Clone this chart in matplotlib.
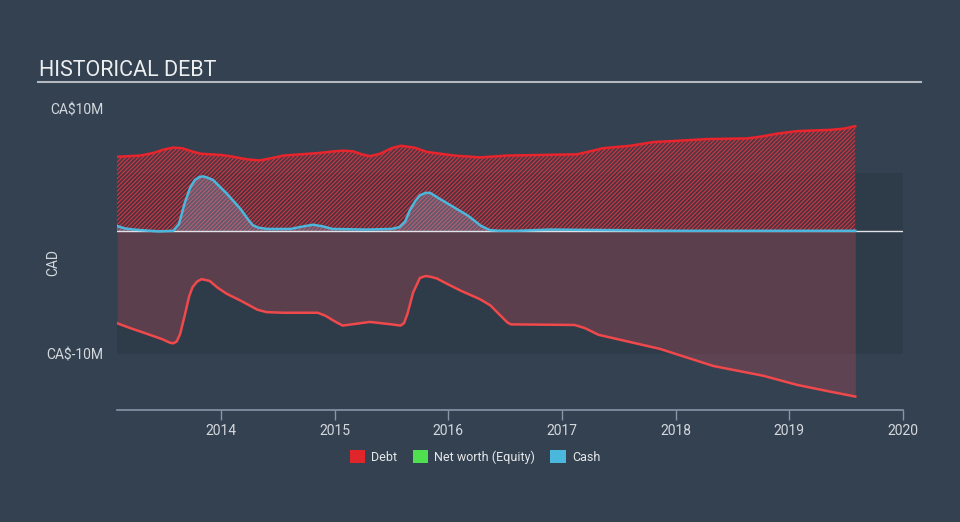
import matplotlib
matplotlib.use('Agg')
import matplotlib.pyplot as plt
from matplotlib.patches import Patch
from matplotlib.lines import Line2D

plt.rcParams['font.family'] = ['Roboto', 'DejaVu Sans']
plt.rcParams['hatch.linewidth'] = 0.8

# values in CA$ millions, dates as decimal years
debt_years = [2013.085, 2013.29, 2013.40, 2013.50, 2013.58, 2013.66, 2013.74, 2013.82, 2014.00,
              2014.11, 2014.22, 2014.34, 2014.45, 2014.55, 2014.85, 2015.00, 2015.07, 2015.16,
              2015.24, 2015.31, 2015.40, 2015.50, 2015.58, 2015.70, 2015.81, 2016.05, 2016.28,
              2016.52, 2017.13, 2017.25, 2017.36, 2017.60, 2017.80, 2018.00, 2018.28, 2018.63,
              2018.75, 2018.90, 2019.07, 2019.36, 2019.48, 2019.58]
debt = [6.1, 6.2, 6.4, 6.7, 6.85, 6.8, 6.55, 6.35, 6.25,
        6.1, 5.9, 5.8, 6.0, 6.2, 6.4, 6.55, 6.6, 6.55,
        6.3, 6.15, 6.35, 6.8, 7.0, 6.85, 6.5, 6.2, 6.05,
        6.2, 6.3, 6.55, 6.8, 7.0, 7.3, 7.4, 7.55, 7.6,
        7.75, 8.0, 8.2, 8.3, 8.4, 8.6]

cash_years = [2013.085, 2013.15, 2013.23, 2013.45, 2013.58, 2013.63, 2013.68, 2013.73, 2013.77,
              2013.81, 2013.84, 2013.88, 2013.93, 2014.05, 2014.17, 2014.24, 2014.28, 2014.33,
              2014.41, 2014.61, 2014.72, 2014.81, 2014.90, 2014.98, 2015.28, 2015.50, 2015.57,
              2015.62, 2015.66, 2015.71, 2015.75, 2015.80, 2015.84, 2015.90, 2015.99, 2016.17,
              2016.24, 2016.28, 2016.33, 2016.37, 2016.45, 2016.60, 2016.90, 2017.50, 2018.00,
              2019.58]
cash = [0.45, 0.25, 0.15, 0.0, 0.05, 0.6, 2.3, 3.6, 4.2,
        4.45, 4.5, 4.4, 4.2, 3.1, 1.85, 0.95, 0.5, 0.3,
        0.2, 0.2, 0.4, 0.55, 0.4, 0.2, 0.15, 0.2, 0.35,
        0.8, 1.7, 2.5, 2.95, 3.15, 3.15, 2.8, 2.3, 1.3,
        0.8, 0.5, 0.25, 0.1, 0.05, 0.05, 0.15, 0.1, 0.05,
        0.05]

equity_years = [2013.085, 2013.20, 2013.31, 2013.48, 2013.55, 2013.58, 2013.61, 2013.64, 2013.68,
                2013.72, 2013.75, 2013.79, 2013.83, 2013.90, 2013.97, 2014.05, 2014.17, 2014.26,
                2014.32, 2014.40, 2014.55, 2014.85, 2014.92, 2014.99, 2015.07, 2015.31, 2015.50,
                2015.58, 2015.61, 2015.64, 2015.69, 2015.75, 2015.80, 2015.84, 2015.90, 2015.96,
                2016.11, 2016.28, 2016.37, 2016.45, 2016.52, 2016.55, 2017.11, 2017.20, 2017.32,
                2017.86, 2018.33, 2018.77, 2019.07, 2019.36, 2019.58]
equity = [-7.5, -7.9, -8.25, -8.8, -9.1, -9.15, -9.0, -8.4, -6.9,
          -5.3, -4.55, -4.1, -3.9, -4.05, -4.6, -5.1, -5.65, -6.1,
          -6.4, -6.6, -6.65, -6.65, -6.9, -7.3, -7.7, -7.4, -7.6,
          -7.7, -7.5, -6.75, -5.0, -3.8, -3.65, -3.7, -3.85, -4.15,
          -4.85, -5.55, -6.05, -6.8, -7.45, -7.6, -7.65, -7.9, -8.45,
          -9.6, -11.0, -11.8, -12.55, -13.1, -13.5]

year_ticks = [2014, 2015, 2016, 2017, 2018, 2019, 2020]

bg = '#334151'
fig = plt.figure(figsize=(9.6, 5.22), dpi=100, facecolor=bg)
ax = fig.add_axes([117 / 960, 1 - 410 / 522, 786 / 960, 315 / 522])
ax.set_facecolor(bg)

ax.axhspan(-10, 4.8, color='#2e3b49', zorder=0, lw=0)

# debt area
ax.fill_between(debt_years, 0, debt, facecolor=(0.55, 0.12, 0.17, 0.35), hatch='////////',
                edgecolor='#cc3a44', linewidth=0, zorder=2)
ax.plot(debt_years, debt, color='#e8242c', lw=1.8, zorder=5)

# equity area
ax.fill_between(equity_years, equity, 0, color='#c44a55', alpha=0.3, lw=0, zorder=1)
ax.plot(equity_years, equity, color='#f0494c', lw=1.8, zorder=5)

# cash area
ax.fill_between(cash_years, 0, cash, facecolor=(0.55, 0.7, 0.85, 0.3), lw=0, zorder=3)
ax.plot(cash_years, cash, color='#4cb6dc', lw=1.8, zorder=6)

ax.axhline(0, color='#dfe3e7', lw=1, zorder=4)

ax.set_xlim(2013.085, 2020.0)
ax.set_ylim(-14.6, 11.15)

for s in ['top', 'right', 'left']:
    ax.spines[s].set_visible(False)
ax.spines['bottom'].set_color('#8796a8')
ax.spines['bottom'].set_linewidth(1.2)

ax.set_xticks(year_ticks)
ax.set_xticklabels([str(y) for y in year_ticks])
ax.tick_params(axis='x', colors='#8796a8', length=7, width=1, labelcolor='#d5d9de',
               labelsize=10, pad=3)
ax.set_yticks([10, -10])
ax.set_yticklabels(['CA$10M', 'CA$-10M'])
ax.tick_params(axis='y', length=0, labelcolor='#d5d9de', labelsize=10, pad=10)

fig.text(53 / 960, 1 - 262 / 522, 'CAD', color='#d5d9de', fontsize=10, rotation=90,
         ha='center', va='center')
fig.text(39 / 960, 1 - 76 / 522, 'HISTORICAL DEBT', color='#eceef0', fontsize=15.5,
         ha='left', va='baseline')
fig.add_artist(Line2D([38 / 960, 921 / 960], [1 - 82 / 522, 1 - 82 / 522],
                      color='#b4b9bf', lw=1.5))

handles = [Patch(facecolor='#e0262b', edgecolor='none', label='Debt'),
           Patch(facecolor='#4fe04f', edgecolor='none', label='Net worth (Equity)'),
           Patch(facecolor='#4ab8dd', edgecolor='none', label='Cash')]
fig.legend(handles=handles, loc='center', bbox_to_anchor=(475 / 960, 1 - 457 / 522), ncol=3,
           frameon=False, handlelength=1.25, handleheight=1.25, handletextpad=0.5,
           columnspacing=1.2, labelcolor='#e6e8ea', fontsize=9)

fig.savefig('out.png', dpi=100, facecolor=bg)
